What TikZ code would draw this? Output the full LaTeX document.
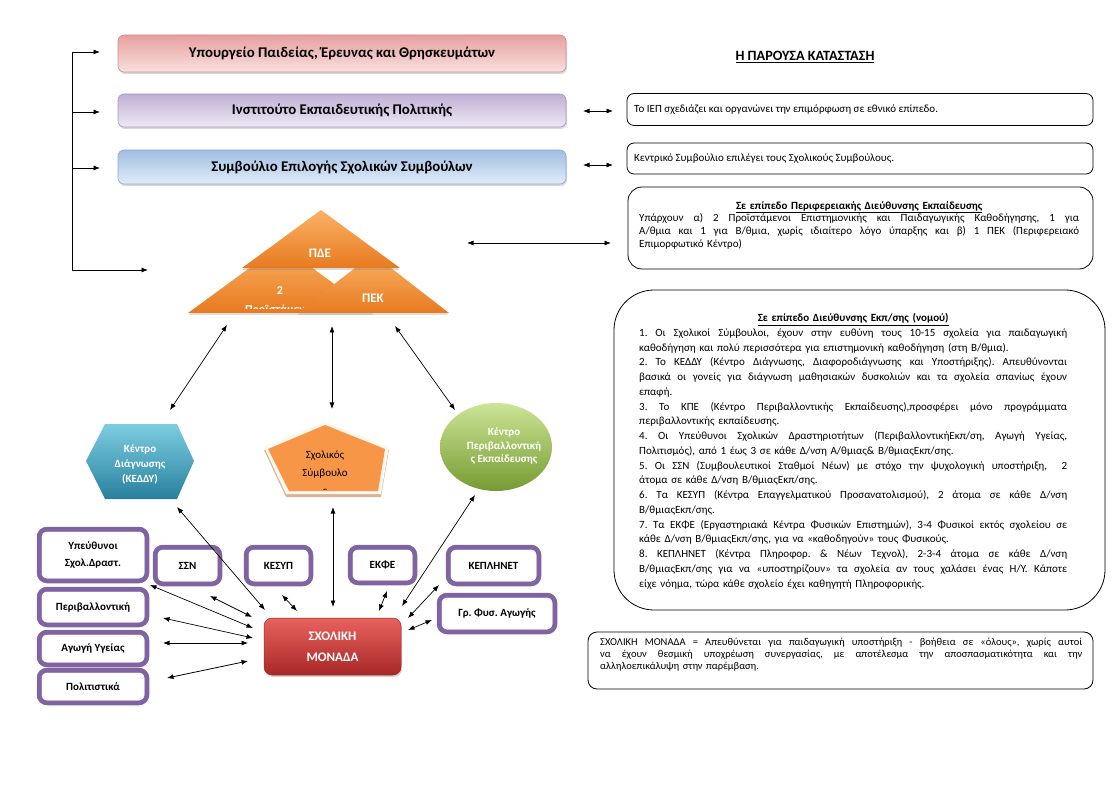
\documentclass[tikz,border=0pt]{standalone}
\usepackage{fontspec}
\setmainfont{Carlito}
\frenchspacing
\usetikzlibrary{arrows.meta,shadows,calc,shapes.geometric}
\definecolor{pur}{RGB}{128,100,162}
\definecolor{pinkT}{RGB}{231,160,158}
\definecolor{pinkB}{RGB}{247,224,223}
\definecolor{pinkD}{RGB}{215,140,138}
\definecolor{lilT}{RGB}{192,176,212}
\definecolor{lilB}{RGB}{238,232,245}
\definecolor{lilD}{RGB}{170,150,195}
\definecolor{bluT}{RGB}{160,190,226}
\definecolor{bluB}{RGB}{226,236,248}
\definecolor{bluD}{RGB}{140,170,210}
\definecolor{orT}{RGB}{250,178,100}
\definecolor{orB}{RGB}{232,122,32}
\definecolor{orF}{RGB}{247,150,70}
\definecolor{tan}{RGB}{214,180,150}
\definecolor{cyT}{RGB}{125,205,225}
\definecolor{cyM}{RGB}{75,172,198}
\definecolor{cyB}{RGB}{40,128,158}
\definecolor{grT}{RGB}{205,228,150}
\definecolor{grM}{RGB}{155,187,89}
\definecolor{grB}{RGB}{118,155,50}
\definecolor{rdT}{RGB}{232,98,95}
\definecolor{rdB}{RGB}{168,40,38}
\newcommand{\J}[2]{{\spaceskip=0pt\xspaceskip=0pt\makebox[#1][s]{#2}}}
\newcommand{\fst}{\rule{0pt}{9pt}}
\begin{document}
\begin{tikzpicture}[x=1pt,y=-1pt,
  dbl/.style={{Latex[length=6.5pt,width=5pt]}-{Latex[length=6.5pt,width=5pt]}, line width=0.7pt},
  one/.style={-{Latex[length=6.5pt,width=5pt]}, line width=0.7pt},
  topbox/.style={rounded corners=6pt, minimum width=448pt, inner sep=0pt, line width=0.6pt,
    font=\fontsize{14.8}{17}\selectfont\bfseries,
    drop shadow={opacity=0.3,shadow xshift=1pt,shadow yshift=-2pt}},
  infobox/.style={draw, line width=0.8pt, inner sep=0pt},
  body/.style={inner sep=0pt, anchor=base west, font=\fontsize{11}{12.7}\selectfont},
  block/.style={inner sep=0pt, anchor=north west, align=left, font=\fontsize{11}{12.7}\selectfont},
  pbox/.style={draw=pur, line width=4.5pt, rounded corners=8pt, fill=white, inner sep=0pt,
    align=center, font=\fontsize{11}{17}\selectfont\bfseries},
  pin/.style={draw=pur, line width=1.1pt, rounded corners=5pt},
  wtext/.style={text=white, font=\fontsize{11}{15}\selectfont\bfseries, align=center, inner sep=0pt},
]
\useasboundingbox (0,0) rectangle (1119,791);

% ---------- top boxes ----------
\node[topbox, minimum height=37pt, top color=pinkT, bottom color=pinkB, draw=pinkD] (ypeth) at (342,53.5) {Υπουργείο Παιδείας, Έρευνας και Θρησκευμάτων};
\node[topbox, minimum height=33pt, top color=lilT, bottom color=lilB, draw=lilD] (iepb) at (342,110.5) {Ινστιτούτο Εκπαιδευτικής Πολιτικής};
\node[topbox, minimum height=34pt, top color=bluT, bottom color=bluB, draw=bluD] (sesb) at (342,167) {Συμβούλιο Επιλογής Σχολικών Συμβούλων};

% bracket
\coordinate (br0) at (72,52);
\coordinate (br1) at (72,112);
\coordinate (br2) at (72,168);
\coordinate (br3) at (72,270);
\coordinate (e0) at (100,52);
\coordinate (e1) at (100,112);
\coordinate (e2) at (100,168);
\coordinate (e3) at (148,270);
\draw[line width=0.7pt] (br0) -- (br3);
\draw[one] (br0) -- (e0);
\draw[one] (br1) -- (e1);
\draw[one] (br2) -- (e2);
\draw[one] (br3) -- (e3);

% ---------- right info ----------
\node[font=\fontsize{14.2}{16}\selectfont\bfseries, inner sep=0pt] (title) at (805,57) {\underline{Η ΠΑΡΟΥΣΑ ΚΑΤΑΣΤΑΣΗ}};

\node[infobox, rounded corners=7pt, minimum width=466pt, minimum height=32pt] (iep) at (860,109.5) {};
\node[body] (iept) at (634,113) {Το ΙΕΠ σχεδιάζει και οργανώνει την επιμόρφωση σε εθνικό επίπεδο.};
\node[infobox, rounded corners=7pt, minimum width=466pt, minimum height=31pt] (kse) at (860,158.5) {};
\node[body] (kset) at (634,162) {Κεντρικό Συμβούλιο επιλέγει τους Σχολικούς Συμβούλους.};

\coordinate (r1a) at (583,111);
\coordinate (r1b) at (613,111);
\coordinate (r2a) at (583,165);
\coordinate (r2b) at (613,165);
\draw[dbl] (r1a) -- (r1b);
\draw[dbl] (r2a) -- (r2b);

\node[infobox, rounded corners=14pt, minimum width=465pt, minimum height=82pt] (pdeb) at (860.5,228) {};
\node[block, text width=440pt] (pdet) at (639,200) {\fst\makebox[440pt][c]{\bfseries\underline{Σε επίπεδο Περιφερειακής Διεύθυνσης Εκπαίδευσης}}\\
\J{440pt}{Υπάρχουν α) 2 Προϊστάμενοι Επιστημονικής και Παιδαγωγικής Καθοδήγησης, 1 για}\\
\J{440pt}{Α/θμια και 1 για Β/θμια, χωρίς ιδιαίτερο λόγο ύπαρξης και β) 1 ΠΕΚ (Περιφερειακό}\\
Επιμορφωτικό Κέντρο)};
\coordinate (r3a) at (467,243);
\coordinate (r3b) at (611,243);
\draw[dbl] (r3a) -- (r3b);

\node[infobox, rounded corners=40pt, minimum width=491pt, minimum height=320pt] (nomb) at (859.5,450) {};
\node[block, text width=428pt, font=\fontsize{11}{14.75}\selectfont] (nomt) at (639,312.5) {\fst\makebox[428pt][c]{\bfseries\underline{Σε επίπεδο Διεύθυνσης Εκπ/σης (νομού)}}\\
\J{428pt}{1. Οι Σχολικοί Σύμβουλοι, έχουν στην ευθύνη τους 10-15 σχολεία για παιδαγωγική}\\
καθοδήγηση και πολύ περισσότερα για επιστημονική καθοδήγηση (στη Β/θμια).\\
\J{428pt}{2. Το ΚΕΔΔΥ (Κέντρο Διάγνωσης, Διαφοροδιάγνωσης και Υποστήριξης). Απευθύνονται}\\
\J{428pt}{βασικά οι γονείς για διάγνωση μαθησιακών δυσκολιών και τα σχολεία σπανίως έχουν}\\
επαφή.\\
\J{428pt}{3. Το ΚΠΕ (Κέντρο Περιβαλλοντικής Εκπαίδευσης),προσφέρει μόνο προγράμματα}\\
περιβαλλοντικής εκπαίδευσης.\\
\J{428pt}{4. Οι Υπεύθυνοι Σχολικών Δραστηριοτήτων (ΠεριβαλλοντικήΕκπ/ση, Αγωγή Υγείας,}\\
Πολιτισμός), από 1 έως 3 σε κάθε Δ/νση Α/θμιας\& Β/θμιαςΕκπ/σης.\\
\J{428pt}{5. Οι ΣΣΝ (Συμβουλευτικοί Σταθμοί Νέων) με στόχο την ψυχολογική υποστήριξη, \ 2}\\
άτομα σε κάθε Δ/νση Β/θμιαςΕκπ/σης.\\
\J{428pt}{6. Τα ΚΕΣΥΠ (Κέντρα Επαγγελματικού Προσανατολισμού), 2 άτομα σε κάθε Δ/νση}\\
Β/θμιαςΕκπ/σης.\\
\J{428pt}{7. Τα ΕΚΦΕ (Εργαστηριακά Κέντρα Φυσικών Επιστημών), 3-4 Φυσικοί εκτός σχολείου σε}\\
κάθε Δ/νση Β/θμιαςΕκπ/σης, για να «καθοδηγούν» τους Φυσικούς.\\
\J{428pt}{8. ΚΕΠΛΗΝΕΤ (Κέντρα Πληροφορ. \& Νέων Τεχνολ), 2-3-4 άτομα σε κάθε Δ/νση}\\
\J{428pt}{Β/θμιαςΕκπ/σης για να «υποστηρίζουν» τα σχολεία αν τους χαλάσει ένας Η/Υ. Κάποτε}\\
είχε νόημα, τώρα κάθε σχολείο έχει καθηγητή Πληροφορικής.};

\node[infobox, rounded corners=9pt, minimum width=505pt, minimum height=57pt] (smb) at (840.5,660.5) {};
\node[block, text width=482pt, font=\fontsize{10.5}{12.3}\selectfont] (smt) at (600,636) {\fst\J{482pt}{ΣΧΟΛΙΚΗ ΜΟΝΑΔΑ = Απευθύνεται για παιδαγωγική υποστήριξη - βοήθεια σε «όλους», χωρίς αυτοί}\\
\J{482pt}{να έχουν θεσμική υποχρέωση συνεργασίας, με αποτέλεσμα την αποσπασματικότητα και την}\\
αλληλοεπικάλυψη στην παρέμβαση.};

% ---------- triangles ----------
\shade[top color=orT, bottom color=orB, drop shadow={opacity=0.25,shadow xshift=0pt,shadow yshift=-2pt}] (188,313) -- (281,245) -- (374,313) -- cycle;
\begin{scope}
\clip (180,270) rectangle (380,309);
\node[wtext, font=\fontsize{12}{19}\selectfont\bfseries] (prt) at (280,301.5) {2\\Προϊστάμενοι};
\end{scope}
\shade[top color=orT, bottom color=orB, drop shadow={opacity=0.25,shadow xshift=0pt,shadow yshift=-2pt}] (297,313) -- (373,254) -- (449,313) -- cycle;
\node[wtext, font=\fontsize{13}{15}\selectfont\bfseries] (pekt) at (373,298) {ΠΕΚ};
\shade[top color=orT, bottom color=orB, drop shadow={opacity=0.3,shadow xshift=0pt,shadow yshift=-2pt}] (242,268) -- (321,210) -- (400,268) -- cycle;
\node[wtext, font=\fontsize{13}{15}\selectfont\bfseries] (pdet2) at (320,253) {ΠΔΕ};

% ---------- middle shapes ----------
\shade[top color=cyT, middle color=cyM, bottom color=cyB] (86,461) -- (105,424) -- (177,424) -- (194,461) -- (177,499) -- (105,499) -- cycle;
\node[wtext] (kedt) at (140,464) {Κέντρο\\Διάγνωσης\\(ΚΕΔΔΥ)};

\fill[tan] (325,424) -- (389,450) -- (381,497) -- (286,497) -- (264,450) -- cycle;
\fill[white!94!orange] (325,421) -- (389,447) -- (381,494) -- (286,494) -- (264,447) -- cycle;
\fill[orF] (325,425) -- (385,449) -- (378,491) -- (289,491) -- (268,449) -- cycle;
\begin{scope}
\clip (260,420) rectangle (392,489);
\node[inner sep=0pt, align=center, font=\fontsize{11}{18}\selectfont] (sst) at (325,473) {Σχολικός\\Σύμβουλο\\ς};
\end{scope}

\node[ellipse, minimum width=112pt, minimum height=88pt, inner sep=0pt, top color=grT, middle color=grM, bottom color=grB] (kpe) at (496,447) {};
\node[wtext, font=\fontsize{11}{13.5}\selectfont\bfseries] (kpet) at (504,446) {Κέντρο\\Περιβαλλοντική\\ς Εκπαίδευσης};

% ---------- school unit and satellites ----------
\node[rounded corners=8pt, minimum width=137pt, minimum height=57pt, top color=rdT, bottom color=rdB, draw=rdB, line width=0.5pt,
  text=white, font=\fontsize{13}{21}\selectfont\bfseries, align=center,
  drop shadow={opacity=0.35,shadow xshift=1pt,shadow yshift=-2pt}] (sm) at (332.5,646.5) {ΣΧΟΛΙΚΗ\\ΜΟΝΑΔΑ};

\newcommand{\pbx}[6]{%
  \node[pbox, minimum width=#4pt, minimum height=#5pt] (#1) at (#2,#3) {#6};
  \draw[pin] ($(#1.south west)+(4.2pt,4.2pt)$) rectangle ($(#1.north east)-(4.2pt,4.2pt)$);}
\pbx{polit}{93}{686.5}{108}{33}{Πολιτιστικά}
\pbx{agogi}{93}{648.5}{108}{33}{Αγωγή Υγείας}
\pbx{perib}{93}{607}{108}{36}{Περιβαλλοντική}
\pbx{ypef}{93}{555}{108}{52}{Υπεύθυνοι\\Σχολ.Δραστ.}
\pbx{ssn}{187.5}{565.5}{65}{37}{ΣΣΝ}
\pbx{kesyp}{278.5}{565.5}{65}{37}{ΚΕΣΥΠ}
\pbx{ekfe}{382.5}{565}{65}{36}{ΕΚΦΕ}
\pbx{kepl}{493.5}{565.5}{91}{37}{ΚΕΠΛΗΝΕΤ}
\pbx{gymn}{497}{613.5}{116}{37}{Γρ. Φυσ. Αγωγής}

% ---------- arrows ----------
\coordinate (a1s) at (227,325); \coordinate (a1e) at (170,410);
\coordinate (a2s) at (332,326); \coordinate (a2e) at (332,409);
\coordinate (a3s) at (395,326); \coordinate (a3e) at (455,410);
\draw[dbl] (a1s) -- (a1e);
\draw[dbl] (a2s) -- (a2e);
\draw[dbl] (a3s) -- (a3e);

\coordinate (b1s) at (177,507); \coordinate (b1e) at (265,610);
\coordinate (b2s) at (333,507); \coordinate (b2e) at (333,607);
\coordinate (b3s) at (475,495); \coordinate (b3e) at (402,606);
\draw[dbl] (b1s) -- (b1e);
\draw[dbl] (b2s) -- (b2e);
\draw[dbl] (b3s) -- (b3e);

\coordinate (c1s) at (150,585); \coordinate (c1e) at (253,628);
\coordinate (c2s) at (210,596); \coordinate (c2e) at (252,617);
\coordinate (c3s) at (163,618); \coordinate (c3e) at (253,638);
\coordinate (c4s) at (163,643); \coordinate (c4e) at (248,643);
\coordinate (c5s) at (167,678); \coordinate (c5e) at (248,661);
\coordinate (c6s) at (282,595); \coordinate (c6e) at (297,611);
\coordinate (c7s) at (387,591); \coordinate (c7e) at (379,611);
\coordinate (c8s) at (439,585); \coordinate (c8e) at (408,618);
\coordinate (c9s) at (432,620); \coordinate (c9e) at (408,630);
\draw[dbl] (c1s) -- (c1e);
\draw[dbl] (c2s) -- (c2e);
\draw[dbl] (c3s) -- (c3e);
\draw[dbl] (c4s) -- (c4e);
\draw[dbl, line width=0.8pt] (c5s) -- (c5e);
\draw[dbl] (c6s) -- (c6e);
\draw[dbl] (c7s) -- (c7e);
\draw[dbl] (c8s) -- (c8e);
\draw[dbl] (c9s) -- (c9e);
\end{tikzpicture}
\end{document}
